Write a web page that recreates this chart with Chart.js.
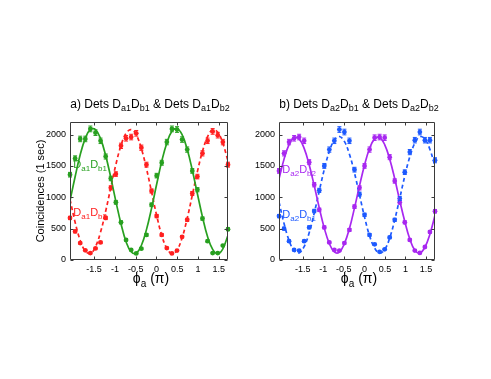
<!DOCTYPE html>
<html><head><meta charset="utf-8">
<script src="https://cdn.jsdelivr.net/npm/chart.js@4/dist/chart.umd.min.js"></script>
<style>
body{margin:0;background:#fff;}
#wrap{position:relative;width:491px;height:379px;overflow:hidden;font-family:"Liberation Sans",Arial,sans-serif;color:#000;}
canvas{position:absolute;top:0;}
.ttl{position:absolute;white-space:nowrap;transform:translateX(-50%);font-size:12px;line-height:12px;}
.xl{position:absolute;white-space:nowrap;transform:translateX(-50%);font-size:14px;line-height:14px;}
sub{font-size:9px;line-height:0;vertical-align:-3px;}
.xl sub{font-size:10px;vertical-align:-4px;}
</style></head>
<body><div id="wrap">
<canvas id="ca" width="245" height="379" style="left:0"></canvas>
<canvas id="cb" width="246" height="379" style="left:245px"></canvas>
<div class="ttl" style="left:150px;top:98px">a) Dets D<sub>a1</sub>D<sub>b1</sub> &amp; Dets D<sub>a1</sub>D<sub>b2</sub></div>
<div class="ttl" style="left:359px;top:98px">b) Dets D<sub>a2</sub>D<sub>b1</sub> &amp; Dets D<sub>a2</sub>D<sub>b2</sub></div>
<div class="xl" style="left:151px;top:271px">&#981;<sub>a</sub> (&pi;)</div>
<div class="xl" style="left:359px;top:271px">&#981;<sub>a</sub> (&pi;)</div>
</div>
<script>
// phase values (units of pi)
const phi = [-2.080,-1.957,-1.835,-1.712,-1.590,-1.467,-1.345,-1.222,-1.099,-0.977,-0.854,-0.732,-0.609,-0.487,-0.364,-0.241,-0.119,0.004,0.126,0.249,0.371,0.494,0.616,0.739,0.861,0.984,1.106,1.229,1.351,1.474,1.596,1.720];
const xTicks = [-1.5,-1,-0.5,0,0.5,1,1.5];
const xTickLabels = ['-1.5','-1','-0.5','0','0.5','1','1.5'];
const yTicks = [0,500,1000,1500,2000];
const yTickLabels = ['0','500','1000','1500','2000'];

// panel a
const a1b1 = [1360,1620,1930,1930,2090,2030,1900,1650,1300,920,600,320,160,105,180,400,880,1345,1550,1880,2090,2080,1920,1760,1420,1120,660,300,110,110,230,490];
const a1b1Fit = [944,1327,1678,1939,2082,2080,1934,1667,1315,935,579,292,131,110,231,484,824,1207,1573,1866,2052,2097,1997,1766,1434,1056,688,371,169,100,177,395];
const a1b2 = [670,455,270,155,110,185,280,670,1150,1370,1820,1940,1960,2020,1790,1520,1100,700,400,190,105,150,370,640,1060,1330,1700,1900,2050,1990,1880,1520];
const a1b2Fit = [966,601,315,141,104,212,445,778,1155,1520,1826,2019,2079,1995,1777,1459,1087,711,394,185,100,159,354,665,1031,1409,1733,1966,2076,2037,1861,1577];
// panel b
const a2b2 = [1420,1700,1880,1940,1960,1900,1560,1200,800,520,280,160,150,270,480,850,1150,1500,1760,1950,1960,1950,1640,1260,920,600,320,150,112,207,447,777];
const a2b2Fit = [1293,1608,1838,1952,1931,1780,1518,1186,831,508,262,128,127,261,502,831,1183,1516,1777,1930,1953,1840,1611,1296,945,613,334,156,112,203,410,714];
const a2b1 = [700,500,300,160,150,300,520,780,1110,1500,1760,1900,2080,2040,1900,1440,1050,720,400,250,130,170,360,640,980,1400,1720,1910,2040,1910,1910,1590];
const a2b1Fit = [924,581,312,149,114,215,434,747,1101,1444,1731,1912,1969,1890,1685,1387,1037,684,386,190,110,166,349,641,984,1339,1644,1863,1966,1930,1764,1498];

const GREEN='rgb(40,160,32)', RED='rgb(255,32,32)', PURPLE='rgb(168,40,240)', BLUE='rgb(30,90,255)';
const FONT='"Liberation Sans", Arial, sans-serif';

const framePlugin = {
  id:'frameTicks',
  afterDraw(chart){
    const {ctx, chartArea:a, scales:{x,y}} = chart;
    ctx.save();
    ctx.strokeStyle='#3a3a3a'; ctx.lineWidth=1;
    ctx.beginPath();
    const L=Math.round(a.left)+0.5, R=Math.round(a.right)-0.5, T=Math.round(a.top)+0.5, B=Math.round(a.bottom)-0.5;
    ctx.rect(L,T,R-L,B-T);
    const tl=3;
    xTicks.forEach(v=>{const px=Math.round(x.getPixelForValue(v))+0.5; ctx.moveTo(px,B); ctx.lineTo(px,B-tl); ctx.moveTo(px,T); ctx.lineTo(px,T+tl);});
    yTicks.forEach(v=>{const py=Math.round(y.getPixelForValue(v))+0.5; ctx.moveTo(L,py); ctx.lineTo(L+tl,py); ctx.moveTo(R,py); ctx.lineTo(R-tl,py);});
    ctx.stroke();
    ctx.restore();
  }
};
const errPlugin = {
  id:'errBars',
  afterDatasetsDraw(chart){
    const {ctx, scales:{x,y}} = chart;
    ctx.save();
    chart.data.datasets.forEach(ds=>{
      if(!ds.errorBars) return;
      ctx.strokeStyle=ds.backgroundColor; ctx.lineWidth=1;
      ds.data.forEach(p=>{
        const e=Math.sqrt(p.y); // Poisson counting error
        const px=x.getPixelForValue(p.x), y1=y.getPixelForValue(p.y+e), y2=y.getPixelForValue(p.y-e);
        ctx.beginPath();
        ctx.moveTo(px,y1); ctx.lineTo(px,y2);
        ctx.moveTo(px-2,y1); ctx.lineTo(px+2,y1);
        ctx.moveTo(px-2,y2); ctx.lineTo(px+2,y2);
        ctx.stroke();
      });
    });
    ctx.restore();
  }
};
const labelPlugin = {
  id:'subLabels',
  afterDraw(chart, args, opts){
    const {ctx, scales:{x,y}} = chart;
    ctx.save();
    ctx.textBaseline='alphabetic';
    (opts.items||[]).forEach(it=>{
      let px=x.getPixelForValue(it.x); const py=y.getPixelForValue(it.y);
      ctx.fillStyle=it.color;
      it.parts.forEach(([t,sub])=>{
        ctx.font=(sub?'8px ':'11px ')+FONT;
        ctx.fillText(t, px, py+(sub?3:0));
        px+=ctx.measureText(t).width;
      });
    });
    ctx.restore();
  }
};

function series(vals){return phi.map((v,i)=>({x:v,y:vals[i]}));}
function makeChart(id, cfg){
  const lineDs=(vals,color,dash)=>({data:series(vals),showLine:true,borderColor:color,borderWidth:1.7,borderDash:dash,pointRadius:0,tension:0.4,fill:false});
  const ptDs=(vals,color)=>({data:series(vals),showLine:false,backgroundColor:color,borderWidth:0,pointRadius:2.4,pointHoverRadius:2.4,errorBars:true,clip:false});
  return new Chart(document.getElementById(id),{
    type:'scatter',
    data:{datasets:[
      lineDs(cfg.fit1,cfg.c1,[]), lineDs(cfg.fit2,cfg.c2,[4,3]),
      ptDs(cfg.d1,cfg.c1), ptDs(cfg.d2,cfg.c2)
    ]},
    options:{
      responsive:false, animation:false, devicePixelRatio:1,
      layout:{padding:cfg.padding},
      plugins:{legend:{display:false},tooltip:{enabled:false},subLabels:{items:cfg.labels}},
      scales:{
        x:{type:'linear',min:-2.08,max:1.72,
          afterBuildTicks:s=>{s.ticks=xTicks.map(v=>({value:v}));},
          afterFit:s=>{s.height=119;},
          grid:{display:false,drawTicks:false},border:{display:false},
          ticks:{padding:4,color:'#000',font:{size:9,family:FONT},
            callback:(v)=>xTickLabels[xTicks.indexOf(v)]}},
        y:{type:'linear',min:0,max:2200,
          afterBuildTicks:s=>{s.ticks=yTicks.map(v=>({value:v}));},
          afterFit:s=>{s.width=cfg.yWidth;},
          grid:{display:false,drawTicks:false},border:{display:false},
          title:{display:cfg.yTitle,text:'Coincidences (1 sec)',color:'#000',padding:0,font:{size:11,family:FONT}},
          ticks:{padding:4,color:'#000',font:{size:9,family:FONT},
            callback:(v)=>yTickLabels[yTicks.indexOf(v)]}}
      }
    },
    plugins:[framePlugin,errPlugin,labelPlugin]
  });
}
makeChart('ca',{fit1:a1b1Fit,fit2:a1b2Fit,d1:a1b1,d2:a1b2,c1:GREEN,c2:RED,
  padding:{left:34,right:17,top:122,bottom:0},yWidth:36,yTitle:true,
  labels:[{x:-2.0,y:1470,color:GREEN,parts:[['D',0],['a1',1],['D',0],['b1',1]]},
          {x:-2.0,y:700,color:RED,parts:[['D',0],['a1',1],['D',0],['b2',1]]}]});
makeChart('cb',{fit1:a2b2Fit,fit2:a2b1Fit,d1:a2b2,d2:a2b1,c1:PURPLE,c2:BLUE,
  padding:{left:0,right:56,top:122,bottom:0},yWidth:34,yTitle:false,
  labels:[{x:-2.0,y:1390,color:PURPLE,parts:[['D',0],['a2',1],['D',0],['b2',1]]},
          {x:-2.0,y:670,color:BLUE,parts:[['D',0],['a2',1],['D',0],['b1',1]]}]});
</script>
</body></html>
